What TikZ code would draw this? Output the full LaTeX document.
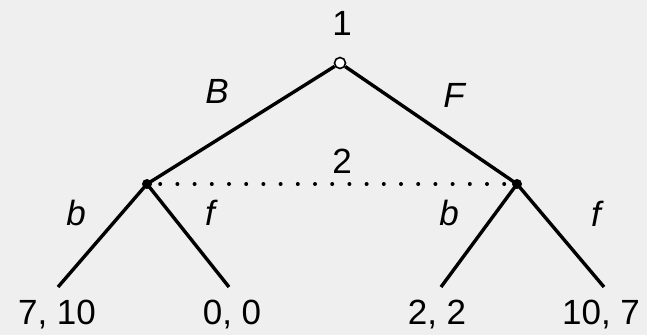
\documentclass[tikz,border=0pt]{standalone}
\usepackage{fontspec}
\setmainfont{Liberation Sans}
\definecolor{bg}{RGB}{239,239,239}
\begin{document}
\begin{tikzpicture}[x=1pt,y=-1pt,
  edge/.style={line width=3.4pt},
  lbl/.style={anchor=base,inner sep=0pt,font=\fontsize{35}{40}\selectfont},
  ilbl/.style={lbl,font=\fontsize{35}{40}\selectfont\itshape},
  root/.style={circle,draw,fill=white,line width=1.6pt,minimum size=11pt,inner sep=0pt},
  dec/.style={circle,fill=black,minimum size=10pt,inner sep=0pt}]
\fill[bg] (0,0) rectangle (647,335);
\useasboundingbox (0,0) rectangle (647,335);
\node[root] (r) at (340,63) {};
\node[dec] (l) at (147,184) {};
\node[dec] (rr) at (517,184) {};
\coordinate (a) at (58,287);
\coordinate (b) at (229,287);
\coordinate (c) at (441,287);
\coordinate (d) at (604,287);
\draw[edge] (r) -- (l.center);
\draw[edge] (r) -- (rr.center);
\draw[edge] (l.center) -- (a);
\draw[edge] (l.center) -- (b);
\draw[edge] (rr.center) -- (c);
\draw[edge] (rr.center) -- (d);
\draw[line width=4pt,line cap=round,dash pattern=on 0pt off 17.2pt,dash phase=4pt] (l.center) -- (rr.center);
\node[lbl] (t1) at (342,35) {1};
\node[lbl] (t2) at (342,173) {2};
\node[ilbl] (tB) at (217,103) {B};
\node[ilbl] (tF) at (454,107) {F};
\node[ilbl] (tb1) at (76,225) {b};
\node[ilbl] (tf1) at (210,225) {f};
\node[ilbl] (tb2) at (449,225) {b};
\node[ilbl] (tf2) at (596,226) {f};
\node[lbl] (p1) at (57,324) {7, 10};
\node[lbl] (p2) at (232,324) {0, 0};
\node[lbl] (p3) at (437,324) {2, 2};
\node[lbl] (p4) at (601,324) {10, 7};
\end{tikzpicture}
\end{document}
